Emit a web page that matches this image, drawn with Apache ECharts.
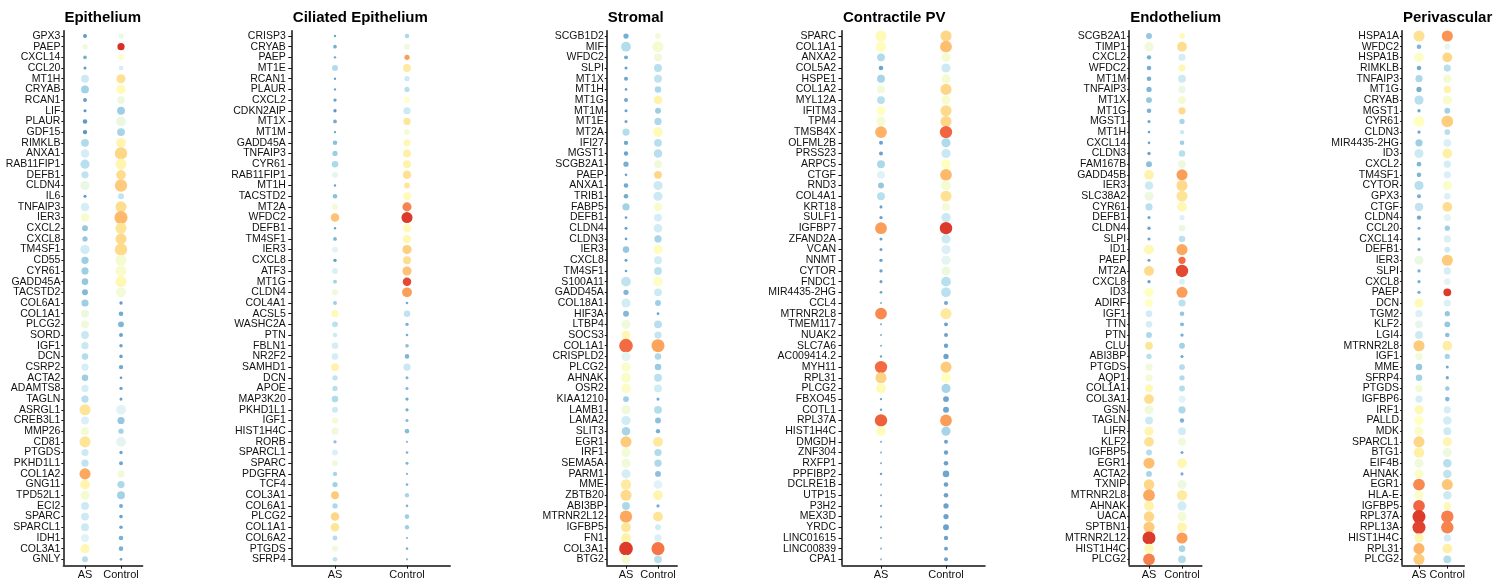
<!DOCTYPE html>
<html>
<head>
<meta charset="utf-8">
<script src="https://cdn.jsdelivr.net/npm/echarts@6/dist/echarts.min.js"></script>
<style>
html, body { margin: 0; padding: 0; background: #fff; }
#chart { width: 1509px; height: 584px; }
</style>
</head>
<body>
<div id="chart"></div>
<script>
// Groups on the x axis of every panel
const groups = ['AS', 'Control'];
const panelTitles = ['Epithelium', 'Ciliated Epithelium', 'Stromal', 'Contractile PV', 'Endothelium', 'Perivascular'];

// expr: average expression level (colour), pct: detection level (dot size), both on a 0-10 scale
const epitheliumGenes = ['GPX3','PAEP','CXCL14','CCL20','MT1H','CRYAB','RCAN1','LIF','PLAUR','GDF15','RIMKLB','ANXA1','RAB11FIP1','DEFB1','CLDN4','IL6','TNFAIP3','IER3','CXCL2','CXCL8','TM4SF1','CD55','CYR61','GADD45A','TACSTD2','COL6A1','COL1A1','PLCG2','SORD','IGF1','DCN','CSRP2','ACTA2','ADAMTS8','TAGLN','ASRGL1','CREB3L1','MMP26','CD81','PTGDS','PKHD1L1','COL1A2','GNG11','TPD52L1','ECI2','SPARC','SPARCL1','IDH1','COL3A1','GNLY'];
const epitheliumAsExpr = [0.8,4.4,1.3,0.8,3.3,2.3,0.9,0.7,0.8,0.7, 2.6,3.5,2.8,3.0,4.2,0.8,3.5,4.7,2.0,2.0, 3.4,2.2,2.2,2.0,1.6, 2.2,4.3,4.4,3.2,3.2,2.7,3.5,2.2,3.5,2.8, 6.1,3.6,4.6,6.0,3.3,3.0,7.6,5.4,4.6,3.3, 3.3,3.3,3.8,5.3,2.7];
const epitheliumAsPct = [1.5,2.5,1.3,0.8,4.5,4.5,1.5,0.8,2,1.8, 4.5,5,5.5,4,5.5,0.8,5,5,3,2.5, 5.5,4,4,3.5,3, 4,4.5,4.5,4.5,4,3.5,4,3.5,4,4, 7,4.5,4.5,7,4,4,7,6,5.5,4.5, 4.5,4.5,4.5,5.5,3];
const epitheliumCtrlExpr = [4.3,10,5,3.5,6.2,5.2,4.3,2.2,4.2,2.4, 5.4,6.5,5.4,6.3,6.8,3.0,6.3,7.2,6.1,6.4, 6.4,4.6,4.7,5.3,4.5, 0.8,1.2,1.5,1.0,1.0,1.0,1.2,0.8,1.0,1.0, 3.8,2.0,2.3,3.9,1.0,1.1,4.5,2.5,2.3,1.2, 1.0,1.1,1.4,1.4,1.0];
const epitheliumCtrlPct = [2.5,4,2.5,2,5.5,5.5,4.5,4.5,6,4.5, 6,8,7,6,8,3,7,8.5,7,7, 8,7,7,7,6, 1,2,3,1.5,1.2,1.2,1.8,0.5,1,0.8, 6,4,2.5,6,1,1.5,4,4,4.5,1.5, 1.2,1.2,2,2,0.5];

const ciliatedGenes = ['CRISP3','CRYAB','PAEP','MT1E','RCAN1','PLAUR','CXCL2','CDKN2AIP','MT1X','MT1M','GADD45A','TNFAIP3','CYR61','RAB11FIP1','MT1H','TACSTD2','MT2A','WFDC2','DEFB1','TM4SF1','IER3','CXCL8','ATF3','MT1G','CLDN4','COL4A1','ACSL5','WASHC2A','PTN','FBLN1','NR2F2','SAMHD1','DCN','APOE','MAP3K20','PKHD1L1','IGF1','HIST1H4C','RORB','SPARCL1','SPARC','PDGFRA','TCF4','COL3A1','COL6A1','PLCG2','COL1A1','COL6A2','PTGDS','SFRP4'];
const ciliatedAsExpr = [1,1.3,1,2.6,1,1,1,0.7,1.2,1, 1.8,2.2,2.5,3.9,1,1.8,4.5,7,1,1.5, 3.8,0.9,3.6,2.3,4.4, 2.2,5.2,2.9,3.3,3.5,3.5,5.5,3,2.8,2.6, 3.3,4.5,4.4,1.8,3.6,4.4,2.4,2.3,6.8,2.5, 6.5,6,2.7,4.4,3];
const ciliatedAsPct = [0.3,1.3,0.3,3,0.3,0.3,1,1,1.3,0.3, 2,2.5,3.5,3,0.3,2,3,5,0.3,1.3, 3,1,3,1.5,3, 1.5,4,3,2,3.5,3.5,4.5,2.5,2.5,3.5, 3,3,4,1,3,3,1.8,2.5,4.5,2.5, 5,5,2.2,3,2.2];
const ciliatedCtrlExpr = [2.5,4.4,7.8,5.8,3.3,2.8,5,3.3,6,4.6, 5.3,5.6,5.5,6.2,6,5.2,8.3,9.8,5.2,5.3, 6.7,6.3,7,9.5,7.8, 1.2,3,1.3,1.3,1.8,1.5,3.2,1.5,1.5,1.2, 1.3,1.5,1.7,1.5,1.4,1.5,1.5,1.5,2.4,1.5, 2.2,2.2,1.5,1.5,1.5];
const ciliatedCtrlPct = [2,3,2.5,4.5,2.5,2.5,3,4,4,3, 4,4.5,4.5,5,3,4.5,5.5,7,4.5,5, 5.5,4.5,5.5,5,6, 0.5,3.5,1,0.5,1.3,2,4,0.8,0.8,1, 1,0.8,2,0.1,0.5,0.8,0.1,0.5,1.8,0.5, 2,1.8,0.1,0.5,0.1];

const stromalGenes = ['SCGB1D2','MIF','WFDC2','SLPI','MT1X','MT1H','MT1G','MT1M','MT1E','MT2A','IFI27','MGST1','SCGB2A1','PAEP','ANXA1','TRIB1','FABP5','DEFB1','CLDN4','CLDN3','IER3','CXCL8','TM4SF1','S100A11','GADD45A','COL18A1','HIF3A','LTBP4','SOCS3','COL1A1','CRISPLD2','PLCG2','AHNAK','OSR2','KIAA1210','LAMB1','LAMA2','SLIT3','EGR1','IRF1','SEMA5A','PARM1','MME','ZBTB20','ABI3BP','MTRNR2L12','IGFBP5','FN1','COL3A1','BTG2'];
const stromalAsExpr = [1.3,2.7,1.2,1,1.1,1,1.1,1,1,2.7, 1.1,1,1.3,1,1.2,1.2,2.3,1,1,1, 2,1,1,3,1.5, 3.4,1.6,4.4,5.3,8.8,3.9,4.8,4.8,4.8,2.2, 4.4,3.4,2.4,6.8,4.5,4.4,3.5,5.8,6.4,2.5, 7.6,6,5.5,9.8,4.6];
const stromalAsPct = [2.5,6,1.5,0.8,1.5,0.5,1.5,0.8,0.8,4, 1.8,1.8,2.5,0.5,2,2,4,0.5,0.8,0.5, 3.5,0.8,0.5,6,2.5, 5.5,3,5.5,5.5,9,5.5,5.5,6,6,3, 5.5,5.5,5,7,5.5,5.5,5.5,6.5,7,4.5, 8,6,6,9,5.5];
const stromalCtrlExpr = [4.5,4.6,4.4,2.8,3,2.5,5.5,2.2,2.5,5.2, 2.8,2.8,4.4,6.5,3.3,3.3,4.7,3.5,3.4,2.4, 5.1,3.4,2.9,4.9,3.3, 2.2,1,2.8,3.1,7.7,2.5,2.1,2.9,3.4,1.2, 2.7,1.8,1.3,5.9,2.6,2.5,1.8,3.7,5.4,1.3, 6.1,3.4,3.6,8.6,2.8];
const stromalCtrlPct = [3,7,4.5,4.5,4.5,3.5,5,3,4,6, 4.5,5,4.5,4.5,5.5,5.5,5,4.5,5,4, 5.5,4.5,4.5,6,4.5, 3,0.5,4.5,4,8.5,3.5,3.5,4.5,4.5,0.8, 4.5,3,1.8,6,4,4,3,5,6,1, 6,3,4,8.5,4.5];

const contractileGenes = ['SPARC','COL1A1','ANXA2','COL5A2','HSPE1','COL1A2','MYL12A','IFITM3','TPM4','TMSB4X','OLFML2B','PRSS23','ARPC5','CTGF','RND3','COL4A1','KRT18','SULF1','IGFBP7','ZFAND2A','VCAN','NNMT','CYTOR','FNDC1','MIR4435-2HG','CCL4','MTRNR2L8','TMEM117','NUAK2','SLC7A6','AC009414.2','MYH11','RPL31','PLCG2','FBXO45','COTL1','RPL37A','HIST1H4C','DMGDH','ZNF304','RXFP1','PPFIBP2','DCLRE1B','UTP15','P3H2','MEX3D','YRDC','LINC01615','LINC00839','CPA1'];
const contractileAsExpr = [5.2,5.1,2.6,1.1,2.4,4.5,2.8,5,4.6,7.4, 1,1,2.5,3.7,2,2.8,1,1,7.8,1, 1,1,1,1,1, 1.5,8.2,1.5,1.5,1.5,1,8.8,6.6,5.2,1, 1,9,5.1,1.5,1.5,1.5,1,1.5,1.5,1.2, 1.2,1.2,1.5,1.8,1.8];
const contractileAsPct = [7,6.5,4.5,2,4.5,4.5,4.5,5.5,5.5,7.5, 1.5,1.5,4.5,4.5,3,4.5,0.8,1,7.5,0.8, 0.8,1,1,0.8,0.5, 0.1,7.5,0.1,0.1,0.1,0.3,8,7,6,0.3, 0.3,8,6,0.1,0.1,0.1,0.3,0.1,0.1,0.2, 0.2,0.2,0.1,0.1,0.1];
const contractileCtrlExpr = [6.5,7.1,4.6,3.3,4.6,6.5,4.7,6.4,6.5,8.9, 2.6,3.2,5,7.2,4.6,6.2,4.5,3.2,9.8,3.3, 3.6,3.9,4.3,2.8,2.9, 1.1,5.9,1,1,1,1,6.8,5,2.4,1.1, 1.1,7.8,2.4,1,1,1,1.1,1,1,1, 1,1,1,1,1];
const contractileCtrlPct = [7,7.5,5.5,5.5,5.5,7,5.5,7,7,8, 5.5,5.5,6,7.5,6,7,4.5,5.5,8,5.5, 5.5,5.5,5.5,6,6, 1.5,7,1.5,1.5,1.8,2.5,7,6,5.5,3, 3,7.5,5.5,1.5,1.8,2,3.5,2,2,2.5, 2.5,3,1.8,1.5,1.5];

const endotheliumGenes = ['SCGB2A1','TIMP1','CXCL2','WFDC2','MT1M','TNFAIP3','MT1X','MT1G','MGST1','MT1H','CXCL14','CLDN3','FAM167B','GADD45B','IER3','SLC38A2','CYR61','DEFB1','CLDN4','SLPI','ID1','PAEP','MT2A','CXCL8','ID3','ADIRF','IGF1','TTN','PTN','CLU','ABI3BP','PTGDS','AQP1','COL1A1','COL3A1','GSN','TAGLN','LIFR','KLF2','IGFBP5','EGR1','ACTA2','TXNIP','MTRNR2L8','AHNAK','UACA','SPTBN1','MTRNR2L12','HIST1H4C','PLCG2'];
const endotheliumAsExpr = [2,4.4,1.3,1.3,1.3,1.5,2,1.4,1,1, 1,1,1.8,5.5,3.3,4.3,2.8,1,1,1, 5.3,1,6.4,1,5, 5,3.4,3.5,2.5,6,2.8,4.4,4.5,5.3,6.3, 4.4,3.3,5.4,6.2,2.7,7.1,2.4,6.5,7.6,5.5, 6.5,6.8,9.8,5.3,8.4];
const endotheliumAsPct = [3,5.5,1.8,2,2,2.5,3,2,0.8,0.5, 0.5,1,3,6,5,5.5,4,0.8,1,0.8, 6,0.8,6,1,5.5, 4.5,3.5,3.5,3,4.5,2.5,4,4,4.5,6, 5.5,4.5,5.5,6,3,7,3,6.5,7.5,6, 6.5,7,8.5,6,7.5];
const endotheliumCtrlExpr = [5.2,6.3,3.5,5.3,3.3,4.2,4.6,6.4,2.4,3.2, 2.2,2.8,4.3,7.8,6.4,6.1,5.3,3.6,4.2,2.9, 7.6,8.8,9.5,3.6,7.8, 2.9,2,1.6,1.2,2.3,1.1,2.7,2.6,2.7,3.8, 2.5,1.4,3.4,4.4,1.2,5.3,1.2,4.3,5.8,3.4, 4.5,5.4,7.8,2.4,2.7];
const endotheliumCtrlPct = [3,6,4,4,4.5,4,4.5,4,2.5,1.8, 2,3.5,4.5,7,7,7,6,2.5,3.5,3.5, 7,4,8,3,7, 4,2,1.5,1,3,0.8,3,2.5,3,4, 4,1.8,4.5,4.5,0.8,6,0.8,5.5,6.5,5.5, 5.5,6,7,3.5,4.5];

const perivascularGenes = ['HSPA1A','WFDC2','HSPA1B','RIMKLB','TNFAIP3','MT1G','CRYAB','MGST1','CYR61','CLDN3','MIR4435-2HG','ID3','CXCL2','TM4SF1','CYTOR','GPX3','CTGF','CLDN4','CCL20','CXCL14','DEFB1','IER3','SLPI','CXCL8','PAEP','DCN','TGM2','KLF2','LGI4','MTRNR2L8','IGF1','MME','SFRP4','PTGDS','IGFBP6','IRF1','PALLD','MDK','SPARCL1','BTG1','EIF4B','AHNAK','EGR1','HLA-E','IGFBP5','RPL37A','RPL13A','HIST1H4C','RPL31','PLCG2'];
const perivascularAsExpr = [6.2,1.5,4.8,1.2,2.5,1.3,2.8,1.1,5,1.1, 2.2,3.3,1.5,1.5,2.8,1.3,3,1.2,1.2,1.3, 1.2,4.2,1.3,1.3,1.3, 5.2,3.6,4,3.3,6.8,4.5,2,2.3,4.5,3.5, 5.3,5,4.8,6.5,5.6,4.4,4.8,8.2,4.8,8.9, 9.8,9.6,5.4,7.3,6.8];
const perivascularAsPct = [7,2,6,2,4,2.5,5.5,1,7,1, 4,5.5,2,2,5.5,1.5,5,1.8,0.8,1, 0.8,5.5,1,1,1, 5.5,4,4.5,4.5,7,4,3.5,3.5,4,4, 5.5,5.5,5.5,7,6.5,5.5,5.5,7.5,5.5,7.5, 8.5,8.5,5.5,7,7];
const perivascularCtrlExpr = [8,4,6.5,2.8,4.6,5.5,4.7,2.3,6.7,2.8, 3.6,5.6,3.5,3.6,4.8,3.6,6.3,3.9,2.2,3.6, 3.3,6.8,3.5,3.9,9.8, 3.6,2,2,1.8,5.7,2.4,1.2,1.2,2.1,1.6, 3.5,3.4,3.3,5.4,4.3,2.8,3,6.9,3.3,5.3, 8.4,8.3,3.4,5.6,2.7];
const perivascularCtrlPct = [7,3,6,4,5,4,5.5,3,7.5,3, 4.5,6,4,4,5.5,3.5,6,4,2.5,4, 3,7,4,3.5,4.5, 4,2.5,3,2,6,2.5,0.8,1,2,2, 4,5,4.5,5.5,5.5,5,5,7,5,4, 8,8,4,6,4.5];

const panelData = [
  [epitheliumGenes, epitheliumAsExpr, epitheliumAsPct, epitheliumCtrlExpr, epitheliumCtrlPct],
  [ciliatedGenes, ciliatedAsExpr, ciliatedAsPct, ciliatedCtrlExpr, ciliatedCtrlPct],
  [stromalGenes, stromalAsExpr, stromalAsPct, stromalCtrlExpr, stromalCtrlPct],
  [contractileGenes, contractileAsExpr, contractileAsPct, contractileCtrlExpr, contractileCtrlPct],
  [endotheliumGenes, endotheliumAsExpr, endotheliumAsPct, endotheliumCtrlExpr, endotheliumCtrlPct],
  [perivascularGenes, perivascularAsExpr, perivascularAsPct, perivascularCtrlExpr, perivascularCtrlPct]
];

// Panel geometry (pixels): plot-area left edge and width, label gap, tick length
const panelLayout = [
  { left: 63.4,   width: 79.2,  gap: 3, tick: 2 },
  { left: 291.8,  width: 158.4, gap: 6, tick: 3.5 },
  { left: 606.8,  width: 70.4,  gap: 3, tick: 2 },
  { left: 842,    width: 143,   gap: 6, tick: 3.5 },
  { left: 1129.2, width: 72.6,  gap: 3, tick: 2 },
  { left: 1402,   width: 62.3,  gap: 3, tick: 2 }
];
// 50 gene rows of 10.68 px, first row centred at y = 36
const plotTop = 30.66;
const plotHeight = 534;
const FONT = '"Liberation Sans", Arial, Helvetica, sans-serif';
const INK = '#111111';

// RdYlBu (reversed) colour ramp for expression
const palette = ['#4575B4', '#74ADD1', '#ABD9E9', '#E0F3F8', '#FFFFBF', '#FEE090', '#FDAE61', '#F46D43', '#D73027'];

const grids = [], xAxes = [], yAxes = [], series = [], titles = [];

panelData.forEach((p, i) => {
  const [genes, asExpr, asPct, ctrlExpr, ctrlPct] = p;
  const L = panelLayout[i];

  grids.push({ left: L.left, top: plotTop, width: L.width, height: plotHeight, outerBoundsMode: 'none' });

  xAxes.push({
    gridIndex: i, type: 'value', min: -0.6, max: 1.6, position: 'bottom', offset: 1,
    splitLine: { show: false },
    axisLine: { show: true, onZero: false, lineStyle: { color: INK, width: 1.5 } },
    axisTick: { show: true, length: 3, customValues: [0, 1], lineStyle: { color: INK, width: 1 } },
    axisLabel: {
      customValues: [0, 1], margin: 4, showMinLabel: true, showMaxLabel: true,
      formatter: v => groups[Math.round(v)],
      fontFamily: FONT, fontSize: 11, color: INK
    }
  });

  yAxes.push({
    gridIndex: i, type: 'category', data: genes, inverse: true, boundaryGap: true, position: 'left',
    splitLine: { show: false },
    axisLine: { show: true, onZero: false, lineStyle: { color: INK, width: 1.5 } },
    axisTick: { show: true, length: L.tick, interval: 0, alignWithLabel: true, lineStyle: { color: INK, width: 1 } },
    axisLabel: {
      interval: 0, margin: L.gap,
      fontFamily: FONT, fontSize: 10.5, color: INK
    }
  });

  const data = [];
  genes.forEach((g, r) => {
    data.push([0, r, asExpr[r], asPct[r], g]);
    data.push([1, r, ctrlExpr[r], ctrlPct[r], g]);
  });

  series.push({
    type: 'scatter', xAxisIndex: i, yAxisIndex: i,
    symbol: 'circle', data: data,
    itemStyle: { opacity: 1 },
    silent: true, animation: false
  });

  titles.push({
    text: panelTitles[i], left: L.left + 1, top: 10, padding: 0,
    textStyle: { fontFamily: FONT, fontSize: 15, fontWeight: 'bold', color: '#000' }
  });
});

const allSeries = series.map((s, i) => i);

const chart = echarts.init(document.getElementById('chart'), null, { renderer: 'canvas' });
chart.setOption({
  backgroundColor: '#ffffff',
  animation: false,
  title: titles,
  grid: grids,
  xAxis: xAxes,
  yAxis: yAxes,
  visualMap: [
    { show: false, type: 'continuous', dimension: 2, min: 0, max: 10, seriesIndex: allSeries,
      inRange: { color: palette } },
    { show: false, type: 'continuous', dimension: 3, min: 0, max: 10, seriesIndex: allSeries,
      inRange: { symbolSize: [2, 15] } }
  ],
  series: series
});
</script>
</body>
</html>
